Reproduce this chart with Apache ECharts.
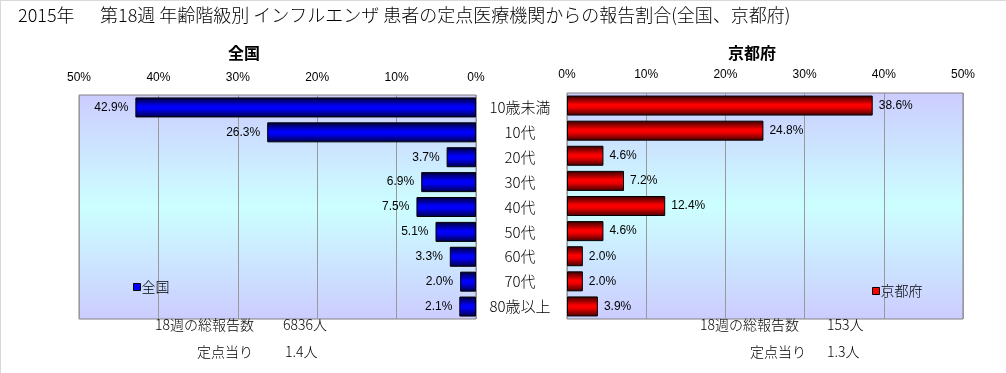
<!DOCTYPE html>
<html>
<head>
<meta charset="utf-8">
<script src="https://cdn.jsdelivr.net/npm/echarts@6/dist/echarts.min.js"></script>
<style>html,body{margin:0;padding:0;background:#fff}#c{width:1006px;height:373px}</style>
</head>
<body>
<div id="c"></div>
<script>
var categories = ['10歳未満', '10代', '20代', '30代', '40代', '50代', '60代', '70代', '80歳以上'];
var nationalValues = [42.9, 26.3, 3.7, 6.9, 7.5, 5.1, 3.3, 2.0, 2.1];
var kyotoValues = [38.6, 24.8, 4.6, 7.2, 12.4, 4.6, 2.0, 2.0, 3.9];
var axisTicks = [0, 10, 20, 30, 40, 50];
var seriesNames = ['全国', '京都府'];
var titleYear = '2015年';
var titleMain = '第18週 年齢階級別 インフルエンザ 患者の定点医療機関からの報告割合(全国、京都府)';
var notes = {
  nationalTotal: '6836人', nationalPer: '1.4人',
  kyotoTotal: '153人', kyotoPer: '1.3人'
};

var JP = '"Noto Sans CJK JP", "Noto Sans", sans-serif';
var NUM = '"Liberation Sans", Arial, sans-serif';

var bgGrad = new echarts.graphic.LinearGradient(0, 0, 0, 1, [
  {offset: 0, color: '#ccccff'}, {offset: 0.5, color: '#ccffff'}, {offset: 1, color: '#ccccff'}
]);
var blueGrad = new echarts.graphic.LinearGradient(0, 0, 0, 1, [
  {offset: 0, color: '#000030'}, {offset: 0.45, color: '#0000ff'}, {offset: 0.6, color: '#0000f0'}, {offset: 1, color: '#000040'}
]);
var redGrad = new echarts.graphic.LinearGradient(0, 0, 0, 1, [
  {offset: 0, color: '#300000'}, {offset: 0.45, color: '#ff0000'}, {offset: 0.6, color: '#f00000'}, {offset: 1, color: '#400000'}
]);

function pct(p) { return p.value.toFixed(1) + '%'; }

function t(text, left, top, size, weight, align) {
  return {
    text: text, left: left, top: top, padding: 0,
    textAlign: align || 'left',
    textStyle: {fontFamily: JP, fontSize: size, fontWeight: weight || 300, color: '#000'}
  };
}

var chart = echarts.init(document.getElementById('c'));
chart.setOption({
  animation: false,
  title: [
    t(titleYear, 18, 6, 18),
    t(titleMain, 100, 6, 18),
    t(seriesNames[0], 228, 45, 16, 'bold'),
    t(seriesNames[1], 728, 45, 16, 'bold'),
    t('18週の総報告数', 155, 318, 14),
    t(notes.nationalTotal, 283, 318, 14),
    t('定点当り', 197, 345, 14),
    t(notes.nationalPer, 285, 345, 14),
    t('18週の総報告数', 700, 318, 14),
    t(notes.kyotoTotal, 827, 318, 14),
    t('定点当り', 750, 345, 14),
    t(notes.kyotoPer, 827, 345, 14)
  ],
  graphic: [
    {type: 'line', shape: {x1: 0, y1: 0.5, x2: 1006, y2: 0.5}, style: {stroke: '#d9d9d9', lineWidth: 1}},
    {type: 'line', shape: {x1: 0.5, y1: 0, x2: 0.5, y2: 373}, style: {stroke: '#d9d9d9', lineWidth: 1}}
  ],
  legend: [
    {data: [{name: seriesNames[0], itemStyle: {color: '#0000ff', borderColor: '#000', borderWidth: 1}}],
     left: 133, top: 280, icon: 'rect', itemWidth: 7, itemHeight: 7, selectedMode: false, padding: 0,
     textStyle: {fontFamily: JP, fontSize: 14, fontWeight: 300, color: '#000', padding: [0, 0, 0, -4]}},
    {data: [{name: seriesNames[1], itemStyle: {color: '#ff0000', borderColor: '#000', borderWidth: 1}}],
     left: 872, top: 284, icon: 'rect', itemWidth: 7, itemHeight: 7, selectedMode: false, padding: 0,
     textStyle: {fontFamily: JP, fontSize: 14, fontWeight: 300, color: '#000', padding: [0, 0, 0, -4]}}
  ],
  grid: [
    {left: 79, right: 530, top: 95, bottom: 54, show: true, backgroundColor: bgGrad, borderColor: '#808080', borderWidth: 1},
    {left: 567, right: 43, top: 93, bottom: 54, show: true, backgroundColor: bgGrad, borderColor: '#808080', borderWidth: 1}
  ],
  xAxis: [
    {gridIndex: 0, type: 'value', position: 'top', inverse: true, min: axisTicks[0], max: axisTicks[axisTicks.length - 1], interval: 10,
     axisLine: {show: false}, axisTick: {show: false},
     splitLine: {lineStyle: {color: '#999999', width: 1}},
     axisLabel: {formatter: '{value}%', fontFamily: NUM, fontSize: 12, color: '#000', margin: 11}},
    {gridIndex: 1, type: 'value', position: 'top', min: axisTicks[0], max: axisTicks[axisTicks.length - 1], interval: 10,
     axisLine: {show: false}, axisTick: {show: false},
     splitLine: {lineStyle: {color: '#999999', width: 1}},
     axisLabel: {formatter: '{value}%', fontFamily: NUM, fontSize: 12, color: '#000', margin: 12}}
  ],
  yAxis: [
    {gridIndex: 0, type: 'category', data: categories, inverse: true, position: 'right',
     axisLine: {show: false}, axisTick: {show: false},
     axisLabel: {align: 'center', margin: 44, fontFamily: JP, fontSize: 15, fontWeight: 300, color: '#000'}},
    {gridIndex: 1, type: 'category', data: categories, inverse: true,
     axisLine: {show: false}, axisTick: {show: false}, axisLabel: {show: false}}
  ],
  series: [
    {name: seriesNames[0], type: 'bar', xAxisIndex: 0, yAxisIndex: 0, data: nationalValues, barWidth: 20,
     itemStyle: {color: blueGrad, borderColor: '#000', borderWidth: 1},
     label: {show: true, position: 'left', distance: 7, formatter: pct, fontFamily: NUM, fontSize: 12, color: '#000'}},
    {name: seriesNames[1], type: 'bar', xAxisIndex: 1, yAxisIndex: 1, data: kyotoValues, barWidth: 20,
     itemStyle: {color: redGrad, borderColor: '#000', borderWidth: 1},
     label: {show: true, position: 'right', distance: 6, formatter: pct, fontFamily: NUM, fontSize: 12, color: '#000'}}
  ]
});
</script>
</body>
</html>
